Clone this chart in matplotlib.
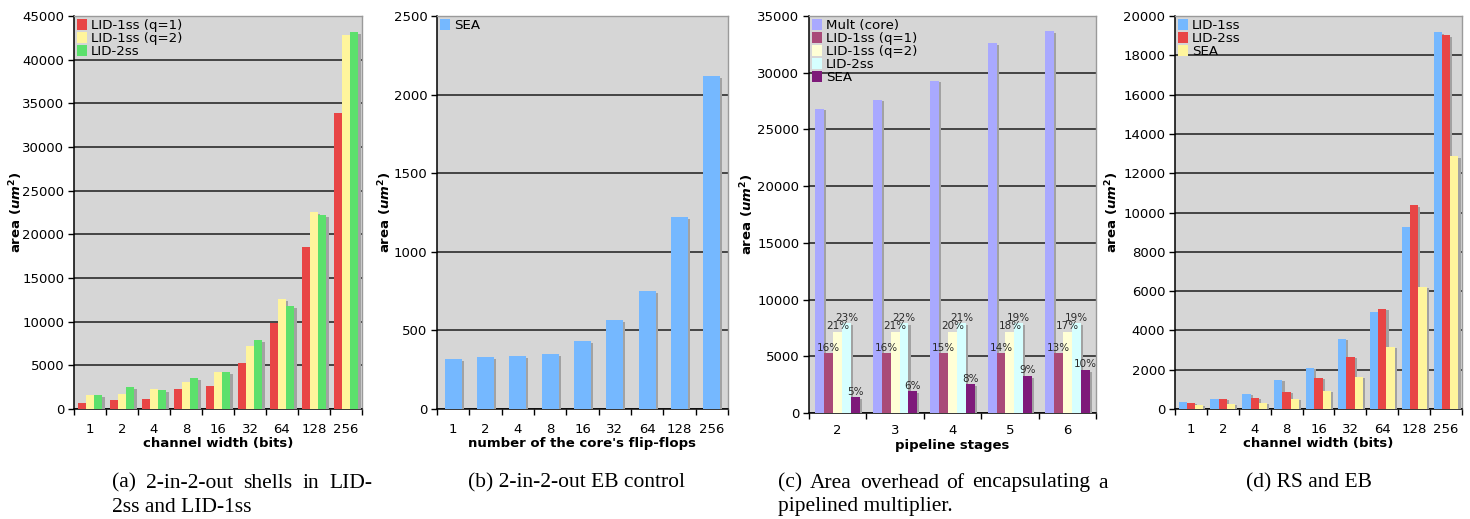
import numpy as np
import matplotlib
matplotlib.use("Agg")
import matplotlib.pyplot as plt
from matplotlib import patheffects

# (a) 2-in-2-out shells
widths = ["1", "2", "4", "8", "16", "32", "64", "128", "256"]
a_lid1_q1 = [650, 990, 1100, 2250, 2600, 5230, 9810, 18560, 33900]
a_lid1_q2 = [1565, 1680, 2250, 3050, 4200, 7180, 12560, 22540, 42800]
a_lid2 = [1565, 2480, 2140, 3510, 4200, 7860, 11760, 22200, 43150]

# (b) EB control
flipflops = ["1", "2", "4", "8", "16", "32", "64", "128", "256"]
b_sea = [317, 330, 336, 349, 432, 566, 751, 1222, 2119]

# (c) pipelined multiplier
stages = ["2", "3", "4", "5", "6"]
c_mult = [26840, 27630, 29300, 32630, 33680]
c_lid1_q1 = [5260, 5260, 5260, 5260, 5260]
c_lid1_q2 = [7150, 7150, 7150, 7150, 7150]
c_lid2 = [7910, 7910, 7910, 7910, 7910]
c_sea = [1380, 1910, 2530, 3260, 3790]
c_pct_q1 = ["16%", "16%", "15%", "14%", "13%"]
c_pct_q2 = ["21%", "21%", "20%", "18%", "17%"]
c_pct_2ss = ["23%", "22%", "21%", "19%", "19%"]
c_pct_sea = ["5%", "6%", "8%", "9%", "10%"]

# (d) RS and EB
d_lid1 = [373, 525, 780, 1490, 2100, 3580, 4950, 9270, 19190]
d_lid2 = [322, 525, 576, 880, 1590, 2660, 5100, 10390, 19030]
d_sea = [220, 271, 322, 525, 930, 1640, 3170, 6220, 12880]

RED = "#e84545"
YELLOW = "#fff59c"
GREEN = "#5ce06c"
BLUE = "#75b8ff"
BG = "#d6d6d6"

W, H = 1470, 519
YLABEL = r"area ($\mathbfit{um}^{\mathbf{2}}$)"
SHADOW = [patheffects.SimplePatchShadow(offset=(1.5, -1.2), shadow_rgbFace="#a2a2a2", alpha=1.0),
          patheffects.Normal()]
CAPTION = dict(fontsize=15.5, family=["Liberation Serif", "DejaVu Serif"], va="center")


def style_axes(ax, cats, ymax, ystep, xlabel, ylab_x, xlab_y, pad=10):
    n = len(cats)
    ax.set_facecolor(BG)
    ax.set_xlim(-0.5, n - 0.5)
    ax.set_ylim(0, ymax)
    ax.set_yticks(np.arange(0, ymax + 1, ystep))
    ax.yaxis.grid(True, color="#1e1e1e", linewidth=1.1)
    ax.set_axisbelow(True)
    ax.set_xticks(np.arange(n + 1) - 0.5)
    ax.set_xticklabels([])
    ax.set_xticks(np.arange(n), minor=True)
    ax.set_xticklabels(cats, minor=True)
    ax.tick_params(axis="x", which="major", length=4.5, width=1, direction="out")
    ax.tick_params(axis="x", which="minor", length=0, pad=pad, labelsize=9.5)
    ax.tick_params(axis="y", length=4, width=1, pad=3, labelsize=9.5)
    for side in ("left", "bottom"):
        ax.spines[side].set_color("black")
        ax.spines[side].set_linewidth(1.1)
    for side in ("top", "right"):
        ax.spines[side].set_color("#9a9a9a")
        ax.spines[side].set_linewidth(1.0)
    ax.set_xlabel(xlabel, fontweight="bold", fontsize=9.5)
    ax.set_ylabel(YLABEL, fontweight="bold", fontsize=9.5)
    ax.yaxis.set_label_coords(ylab_x, 0.5)
    ax.xaxis.set_label_coords(0.5, xlab_y)


def grouped_bars(ax, series, colors, labels, width):
    x = np.arange(len(series[0]))
    k = len(series)
    bars = []
    for i, (vals, col, lab) in enumerate(zip(series, colors, labels)):
        off = (i - (k - 1) / 2) * width
        b = ax.bar(x + off, vals, width, color=col, label=lab, zorder=3)
        for p in b:
            p.set_path_effects(SHADOW)
        bars.append(b)
    return bars


def add_legend(ax):
    leg = ax.legend(loc="upper left", frameon=False, fontsize=9.6, labelspacing=0.0,
                    handlelength=0.8, handleheight=0.9, handletextpad=0.25,
                    borderaxespad=0.15, borderpad=0.05)
    for h in leg.legend_handles:
        h.set_path_effects([])


def justified_line(fig, text, x0, x1, y):
    # spread the words of one caption line between x0 and x1 (pixels)
    renderer = fig.canvas.get_renderer()
    words = text.split()
    items = [fig.text(0, 0, w, ha="left", **CAPTION) for w in words]
    ws = [t.get_window_extent(renderer).width for t in items]
    gap = (x1 - x0 - sum(ws)) / (len(words) - 1)
    x = x0
    for t, w in zip(items, ws):
        t.set_position((x / W, 1 - y / H))
        x += w + gap


def main():
    plt.rcParams["font.family"] = ["DejaVu Sans"]
    fig = plt.figure(figsize=(W / 100, H / 100), dpi=100)

    ax_a = fig.add_axes([74 / W, 1 - 409 / H, 288 / W, 393 / H])
    ax_b = fig.add_axes([437 / W, 1 - 409 / H, 291 / W, 393 / H])
    ax_c = fig.add_axes([809 / W, 1 - 413 / H, 287 / W, 397 / H])
    ax_d = fig.add_axes([1175 / W, 1 - 409 / H, 287 / W, 393 / H])

    # (a)
    grouped_bars(ax_a, [a_lid1_q1, a_lid1_q2, a_lid2], [RED, YELLOW, GREEN],
                 ["LID-1ss (q=1)", "LID-1ss (q=2)", "LID-2ss"], 0.26)
    style_axes(ax_a, widths, 45000, 5000, "channel width (bits)", -0.17, -0.07)
    add_legend(ax_a)

    # (b)
    b = ax_b.bar(np.arange(len(b_sea)), b_sea, 0.52, color=BLUE, label="SEA", zorder=3)
    for p in b:
        p.set_path_effects(SHADOW)
    style_axes(ax_b, flipflops, 2500, 500, "number of the core's flip-flops", -0.148, -0.07)
    add_legend(ax_b)

    # (c)
    c_bars = grouped_bars(ax_c, [c_mult, c_lid1_q1, c_lid1_q2, c_lid2, c_sea],
                          ["#a9a9ff", "#a94a78", "#ffffd6", "#d6ffff", "#7e1a7a"],
                          ["Mult (core)", "LID-1ss (q=1)", "LID-1ss (q=2)", "LID-2ss", "SEA"], 0.155)
    for bars, pct in zip(c_bars[1:], [c_pct_q1, c_pct_q2, c_pct_2ss, c_pct_sea]):
        for p, t in zip(bars, pct):
            ax_c.annotate(t, (p.get_x() + p.get_width() / 2, p.get_height()),
                          xytext=(0, 0.5), textcoords="offset points",
                          ha="center", va="bottom", fontsize=7.5, color="#2a2a2a", zorder=4)
    style_axes(ax_c, stages, 35000, 5000, "pipeline stages", -0.185, -0.066, pad=8)
    add_legend(ax_c)

    # (d)
    grouped_bars(ax_d, [d_lid1, d_lid2, d_sea], [BLUE, RED, YELLOW],
                 ["LID-1ss", "LID-2ss", "SEA"], 0.26)
    style_axes(ax_d, widths, 20000, 2000, "channel width (bits)", -0.188, -0.07)
    add_legend(ax_d)

    justified_line(fig, "(a) 2-in-2-out shells in LID-", 112, 372, 483)
    fig.text(112 / W, 1 - 507 / H, "2ss and LID-1ss", ha="left", **CAPTION)
    fig.text(576 / W, 1 - 483 / H, "(b) 2-in-2-out EB control", ha="center", **CAPTION)
    justified_line(fig, "(c) Area overhead of encapsulating a", 778, 1108, 483)
    fig.text(778 / W, 1 - 507 / H, "pipelined multiplier.", ha="left", **CAPTION)
    fig.text(1309 / W, 1 - 483 / H, "(d) RS and EB", ha="center", **CAPTION)

    fig.savefig("out.png", dpi=100)
    plt.close(fig)


if __name__ == "__main__":
    main()
